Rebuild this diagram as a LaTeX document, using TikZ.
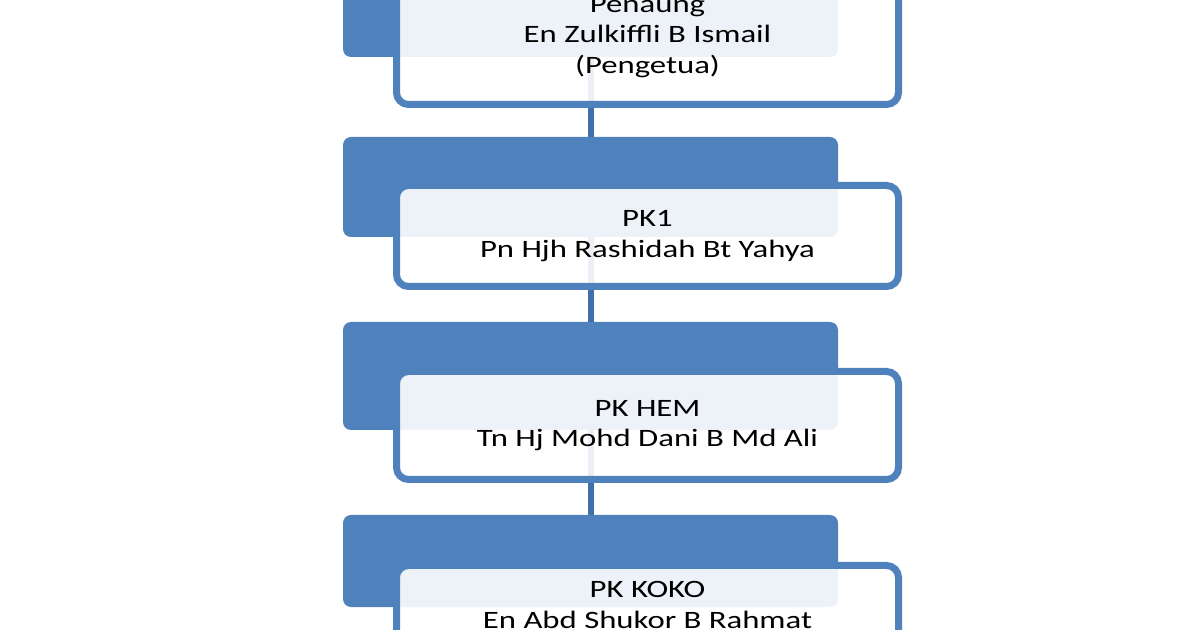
\documentclass[tikz,border=0pt]{standalone}
\usepackage{fontspec}
\setmainfont{Carlito}[FakeStretch=1.31]
\usepackage{xcolor}
\definecolor{tabblue}{HTML}{4F81BD}
\definecolor{linkblue}{HTML}{416FAC}

\begin{document}
\begin{tikzpicture}[x=0.5pt,y=-0.5pt,
		tab/.style={fill=tabblue, rounded corners=4pt, minimum width=247.5pt, inner sep=0pt},
		box/.style={draw=tabblue, line width=3.5pt, fill=white, fill opacity=0.9, text opacity=1,
			rounded corners=6pt, minimum width=251pt, inner sep=0pt, align=center,
			font=\fontsize{12.5}{15.2}\selectfont},
		link/.style={draw=linkblue, line width=3pt}]
			% Fixed frame
			\useasboundingbox (0,0) rectangle (1200,630);
			
			% Blue tabs behind the boxes
			\node (tab1) at (590.5,-11.5) [tab, minimum height=68.5pt] {};
			\node (tab2) at (590.5,187) [tab, minimum height=50pt] {};
			\node (tab3) at (590.5,376) [tab, minimum height=54pt] {};
			\node (tab4) at (590.5,561) [tab, minimum height=46pt] {};
			
			% Links between the tabs
			\draw[link] (tab1.south) -- (tab2.north);
			\draw[link] (tab2.south) -- (tab3.north);
			\draw[link] (tab3.south) -- (tab4.north);
			
			% Name boxes
			\node (box1) at (647.5,37) [box, minimum height=67.5pt] {Penaung\\En Zulkiffli B Ismail\\(Pengetua)};
			\node (box2) at (647.5,236) [box, minimum height=50.5pt] {PK1\\Pn Hjh Rashidah Bt Yahya};
			\node (box3) at (647.5,425.5) [box, minimum height=54pt] {PK HEM\\Tn Hj Mohd Dani B Md Ali};
			\node (box4) at (647.5,605) [box, minimum height=39.5pt] {PK KOKO\\En Abd Shukor B Rahmat};
		\end{tikzpicture}
\end{document}
